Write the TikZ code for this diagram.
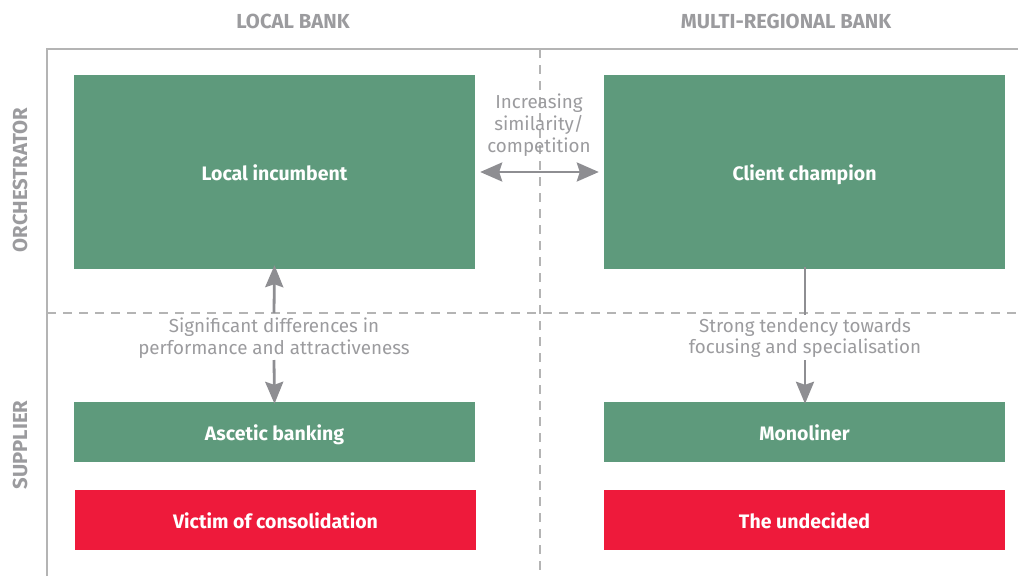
\documentclass[tikz,border=0pt]{standalone}
\usepackage{fontspec}
\setmainfont{Fira Sans}
\usetikzlibrary{arrows.meta}
\definecolor{boxgreen}{HTML}{5E9A7C}
\definecolor{boxred}{HTML}{EE1A3B}
\definecolor{txtgray}{HTML}{9B9B9E}
\definecolor{arrgray}{HTML}{8E8E92}
\definecolor{framegray}{HTML}{B4B4B4}
\tikzset{
  cell/.style={inner sep=0pt, minimum width=401pt, text=white, text height=19pt, text depth=3pt, font=\fontsize{19.5}{23}\selectfont\bfseries},
  greenbox/.style={cell, fill=boxgreen},
  redbox/.style={cell, fill=boxred},
  header/.style={text=txtgray, font=\fontsize{20.3}{24}\selectfont\bfseries},
  note/.style={text=txtgray, font=\fontsize{18.8}{21.8}\selectfont, align=center, inner sep=0pt},
  frameline/.style={draw=framegray, line width=1.5pt},
  dashline/.style={draw=framegray, line width=1.2pt, dash pattern=on 9pt off 7pt},
  arr/.style={draw=arrgray, line width=2.8pt, -{Stealth[length=22pt,width=18pt,inset=3pt]}},
  darr/.style={draw=arrgray, line width=2.8pt, {Stealth[length=22pt,width=19pt,inset=3pt]}-{Stealth[length=22pt,width=19pt,inset=3pt]}},
  plain/.style={draw=arrgray, line width=2.8pt}
}
\begin{document}
\begin{tikzpicture}[x=1pt,y=-1pt]
\useasboundingbox (0,0) rectangle (1018,576);
% frame
\coordinate (fbl) at (47,576);
\coordinate (ftl) at (47,49);
\coordinate (ftr) at (1018,49);
\draw[frameline] (fbl) -- (ftl) -- (ftr);
\coordinate (vt) at (540,49);
\coordinate (vb) at (540,576);
\draw[dashline] (vt) -- (vb);
\coordinate (hl) at (47,313);
\coordinate (hr) at (1018,313);
\draw[dashline] (hl) -- (hr);
% headers
\node[header] (hLocal) at (293,21) {LOCAL BANK};
\node[header] (hMulti) at (786,21) {MULTI-REGIONAL BANK};
\node[header, rotate=90] (hOrch) at (20,180) {ORCHESTRATOR};
\node[header, rotate=90] (hSupp) at (20,445) {SUPPLIER};
% boxes
\node[greenbox, minimum height=194pt] (local) at (274.5,172) {Local incumbent};
\node[greenbox, minimum height=194pt] (client) at (804.5,172) {Client champion};
\node[greenbox, minimum height=60pt] (ascetic) at (274.5,432) {Ascetic banking};
\node[redbox, minimum height=60pt] (victim) at (275.5,520) {Victim of consolidation};
\node[greenbox, minimum height=60pt] (mono) at (804.5,432) {Monoliner};
\node[redbox, minimum height=60pt] (undec) at (804.5,520) {The undecided};
% middle notes
\node[note] (sim) at (539,125) {Increasing\\similarity/\\competition};
\draw[darr] ([xshift=5pt]local.east) -- ([xshift=-5pt]client.west);
\node[note] (sig) at (274,338) {Significant differences in\\performance and attractiveness};
\coordinate (sigA) at (274,313);
\coordinate (sigB) at (274,360);
\draw[arr] (sigA) -- ([yshift=4pt]local.south);
\draw[arr] (sigB) -- ([yshift=-2pt]ascetic.north);
\node[note] (str) at (805,338) {Strong tendency towards\\focusing and specialisation};
\coordinate (strA) at (805,315);
\coordinate (strB) at (805,360);
\draw[plain] ([yshift=2pt]client.south -| strA) -- (strA);
\draw[arr] (strB) -- ([yshift=-2pt]mono.north -| strB);
\end{tikzpicture}
\end{document}
